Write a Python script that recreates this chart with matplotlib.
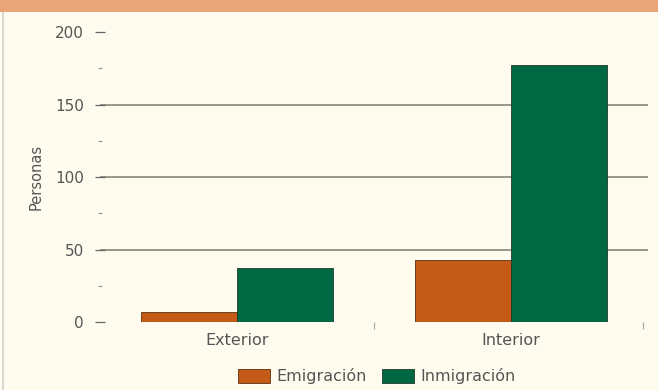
import matplotlib.pyplot as plt
from matplotlib.patches import Rectangle
import numpy as np

plt.rcParams['font.family'] = ['DejaVu Sans']

categorias = ['Exterior', 'Interior']
emigracion = [7, 43]
inmigracion = [37, 177]
series = ['Emigración', 'Inmigración']

fig = plt.figure(figsize=(6.58, 3.90), dpi=100)
fig.patch.set_facecolor('#fffcef')
# franja naranja superior y borde izquierdo
fig.patches.append(Rectangle((0, 0.968), 1, 0.032, transform=fig.transFigure,
                             facecolor='#e9a47a', edgecolor='none'))
fig.patches.append(Rectangle((0.003, 0), 0.003, 0.968, transform=fig.transFigure,
                             facecolor='#d8d8d0', edgecolor='none'))

ax = fig.add_axes([0.152, 0.174, 0.833, 0.744])
ax.set_facecolor('#fffcef')

x = np.arange(len(categorias))
w = 0.35
ax.bar(x - w/2, emigracion, w, color='#c45a18', edgecolor='#5a3010', linewidth=0.6,
       label=series[0], zorder=3)
ax.bar(x + w/2, inmigracion, w, color='#006843', edgecolor='#1f3a2a', linewidth=0.6,
       label=series[1], zorder=3)

ax.set_xlim(-0.5, 1.5)
ax.set_ylim(0, 200)
for s in ax.spines.values():
    s.set_visible(False)

for v in [50, 100, 150]:
    ax.axhline(v, color='#7c7c6c', lw=1.1, zorder=1)

ax.set_yticks([0, 50, 100, 150, 200])
ax.set_yticks([25, 75, 125, 175], minor=True)
ax.tick_params(axis='y', which='major', direction='inout', length=7, width=0.9,
               color='#666666', labelcolor='#555555', labelsize=11, pad=8)
ax.tick_params(axis='y', which='minor', direction='inout', length=3, width=0.9,
               color='#999999')

ax.set_xticks(x)
ax.set_xticklabels(categorias)
ax.set_xticks([0.5, 1.48], minor=True)
ax.tick_params(axis='x', which='major', length=0, labelcolor='#555555',
               labelsize=11.5, pad=8)
ax.tick_params(axis='x', which='minor', direction='out', length=5, width=0.9,
               color='#aaaaaa')

ax.set_ylabel('Personas', color='#555555', fontsize=10.5, labelpad=8)

ax.legend(loc='upper center', bbox_to_anchor=(0.505, -0.11), ncol=2, frameon=False,
          fontsize=11.5, labelcolor='#555555', handlelength=2.0, handleheight=1.0,
          handletextpad=0.4, columnspacing=1.0)

fig.savefig('out.png', dpi=100, facecolor=fig.get_facecolor())
